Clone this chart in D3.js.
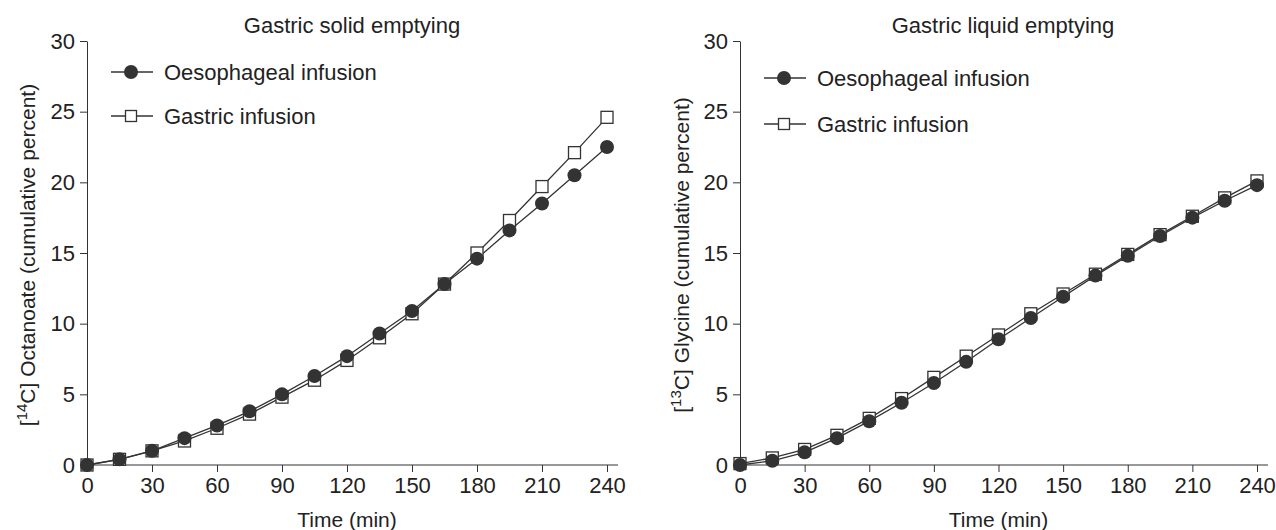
<!DOCTYPE html>
<html>
  <head>
    <meta charset="utf-8">
    <title>Gastric emptying</title>
    <style media="screen">
    body{margin: 0; background: #fff}
    text{font-family: "Liberation Sans", Arial, sans-serif; fill: #222}
    </style>
  </head>
  <body>
    <script src="https://d3js.org/d3.v7.min.js"></script>
    <script type="text/javascript">
      var w = 1276, h = 530;

      // data
      var times = [0, 15, 30, 45, 60, 75, 90, 105, 120, 135, 150, 165, 180, 195, 210, 225, 240];
      var xTicks = [0, 30, 60, 90, 120, 150, 180, 210, 240];
      var yTicks = [0, 5, 10, 15, 20, 25, 30];
      var seriesNames = ["Oesophageal infusion", "Gastric infusion"];

      var solidOes = [0, 0.4, 1.0, 1.9, 2.8, 3.8, 5.0, 6.3, 7.7, 9.3, 10.9, 12.8, 14.6, 16.6, 18.5, 20.5, 22.5];
      var solidGas = [0, 0.4, 1.0, 1.7, 2.6, 3.6, 4.8, 6.0, 7.4, 9.0, 10.7, 12.8, 15.0, 17.3, 19.7, 22.1, 24.6];
      var liquidOes = [0, 0.3, 0.9, 1.9, 3.1, 4.4, 5.8, 7.3, 8.9, 10.4, 11.9, 13.4, 14.8, 16.2, 17.5, 18.7, 19.8];
      var liquidGas = [0.1, 0.5, 1.1, 2.1, 3.3, 4.7, 6.2, 7.7, 9.2, 10.7, 12.1, 13.5, 14.9, 16.3, 17.6, 18.9, 20.1];

      var ink = '#333';

      var svg = d3.select('body').append('svg')
        .attr('width', w)
        .attr('height', h)

      var panels = [
        {title: 'Gastric solid emptying', iso: '14', label: ' Octanoate (cumulative percent)',
          oes: solidOes, gas: solidGas, x0: 87, x1: 607, lx: 111, ly: 72, ldy: 44, ylab: 35, tx: 352},
        {title: 'Gastric liquid emptying', iso: '13', label: ' Glycine (cumulative percent)',
          oes: liquidOes, gas: liquidGas, x0: 740, x1: 1257, lx: 764, ly: 78, ldy: 46, ylab: 689, tx: 1003}
      ]

      panels.forEach(function(p){
        var x = d3.scaleLinear().domain([0, 240]).range([p.x0, p.x1]);
        var y = d3.scaleLinear().domain([0, 30]).range([465, 41]);
        var g = svg.append('g');

        // x axis
        var xa = g.append('g').attr('transform', 'translate(0,465)')
          .call(d3.axisBottom(x).tickValues(xTicks).tickSize(7).tickPadding(5).tickSizeOuter(0));
        xa.select('.domain').attr('d', 'M' + p.x0 + ',0H' + (p.x1 + 11));
        xa.selectAll('line').attr('stroke', ink);
        xa.selectAll('.domain').attr('stroke', ink);
        xa.selectAll('text').style('font-size', '22px').attr('fill', '#222');

        // y axis
        var ya = g.append('g').attr('transform', 'translate(' + p.x0 + ',0)')
          .call(d3.axisLeft(y).tickValues(yTicks).tickSize(7).tickPadding(5).tickSizeOuter(0));
        ya.selectAll('line').attr('stroke', ink);
        ya.selectAll('.domain').attr('stroke', ink);
        ya.selectAll('text').style('font-size', '22px').attr('fill', '#222');

        g.append('text').attr('x', (p.x0 + p.x1) / 2).attr('y', 527)
          .attr('text-anchor', 'middle').style('font-size', '21px').text('Time (min)');

        g.append('text').attr('x', p.tx).attr('y', 33)
          .attr('text-anchor', 'middle').style('font-size', '22px').text(p.title);

        var yl = g.append('text')
          .attr('transform', 'translate(' + p.ylab + ',255) rotate(-90)')
          .attr('text-anchor', 'middle').style('font-size', '21px');
        yl.append('tspan').text('[');
        yl.append('tspan').attr('dy', -8).style('font-size', '15px').text(p.iso);
        yl.append('tspan').attr('dy', 8).text('C]' + p.label);

        var line = d3.line()
          .x(function(d, i){ return x(times[i]) })
          .y(function(d){ return y(d) });

        g.append('path').datum(p.gas).attr('d', line)
          .attr('fill', 'none').attr('stroke', ink).attr('stroke-width', 1.3);
        g.append('path').datum(p.oes).attr('d', line)
          .attr('fill', 'none').attr('stroke', ink).attr('stroke-width', 1.3);

        g.selectAll('rect.gas').data(p.gas).enter().append('rect')
          .attr('class', 'gas')
          .attr('x', function(d, i){ return x(times[i]) - 6 })
          .attr('y', function(d){ return y(d) - 6 })
          .attr('width', 12).attr('height', 12)
          .attr('fill', '#fff').attr('stroke', ink).attr('stroke-width', 1.3);

        g.selectAll('circle.oes').data(p.oes).enter().append('circle')
          .attr('class', 'oes')
          .attr('cx', function(d, i){ return x(times[i]) })
          .attr('cy', function(d){ return y(d) })
          .attr('r', 7)
          .attr('fill', ink);

        // legend
        seriesNames.forEach(function(name, k){
          var ly = p.ly + k * p.ldy;
          g.append('line').attr('x1', p.lx).attr('x2', p.lx + 42)
            .attr('y1', ly).attr('y2', ly).attr('stroke', ink).attr('stroke-width', 1.3);
          if (k === 0) {
            g.append('circle').attr('cx', p.lx + 20).attr('cy', ly).attr('r', 7).attr('fill', ink);
          } else {
            g.append('rect').attr('x', p.lx + 14.5).attr('y', ly - 5.5).attr('width', 11).attr('height', 11)
              .attr('fill', '#fff').attr('stroke', ink).attr('stroke-width', 1.3);
          }
          g.append('text').attr('x', p.lx + 53).attr('y', ly + 8)
            .style('font-size', '22px').text(name);
        });
      })
    </script>
  </body>
</html>
